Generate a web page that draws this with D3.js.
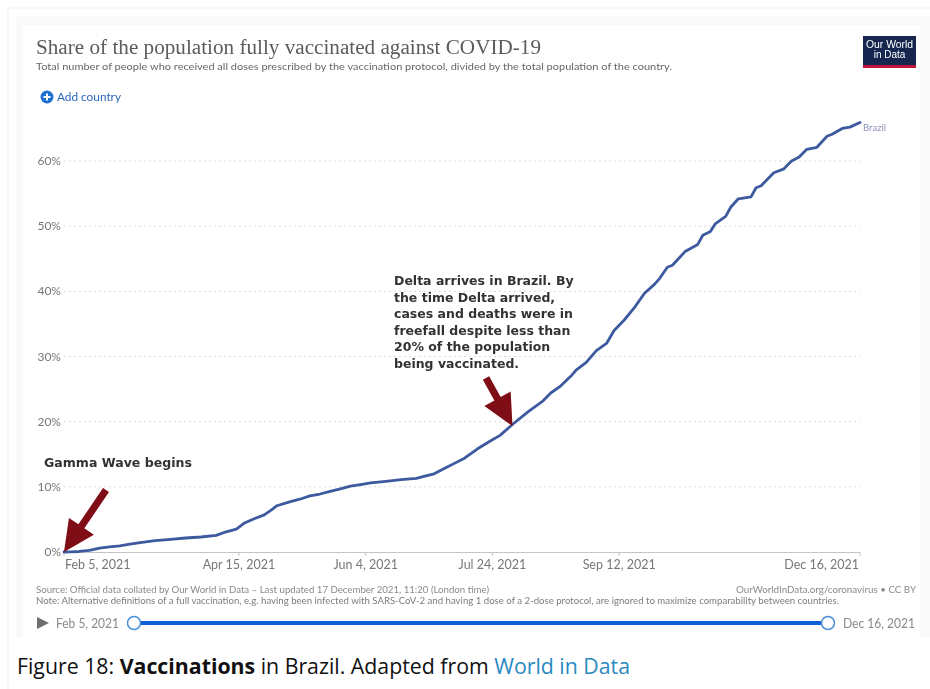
<!DOCTYPE html>
<html><head><meta charset="utf-8">
<script src="https://cdn.jsdelivr.net/npm/d3@7"></script>
<style>html,body{margin:0;padding:0;background:#fff}svg{display:block}</style>
</head><body><svg id="c" width="930" height="689"></svg>
<script>
const startDate = new Date(2021,1,5);
const dayOffsets = [0,3,6,10,14,18,22,26,30,36,42,48,54,60,64,68,71,75,79,82,84,89,93,97,101,105,109,113,117,121,127,133,139,142,146,150,154,158,163,168,172,177,183,189,192,196,200,202,206,210,214,217,221,225,229,233,235,238,240,245,250,252,255,257,261,263,266,271,273,275,280,284,287,290,293,297,301,303,307,310,314];
const brazilShare = [0,0.02,0.08,0.25,0.6,0.8,0.95,1.2,1.45,1.75,1.95,2.15,2.3,2.55,3.1,3.5,4.4,5.1,5.7,6.5,7.1,7.7,8.1,8.6,8.9,9.3,9.7,10.1,10.35,10.6,10.85,11.1,11.3,11.6,12.0,12.8,13.6,14.4,15.8,17.0,17.9,19.6,21.5,23.2,24.4,25.5,27.0,27.9,29.1,30.9,32,34,35.6,37.5,39.7,41.1,42,43.7,44,46.1,47.2,48.6,49.2,50.4,51.5,52.9,54.2,54.5,55.9,56.2,58.2,58.8,60,60.6,61.8,62.1,63.8,64.1,65,65.2,65.9];
const yTicks = [0,10,20,30,40,50,60];
const xTickDays = [0,69,119,169,219,314];
const xTickLabels = ["Feb 5, 2021","Apr 15, 2021","Jun 4, 2021","Jul 24, 2021","Sep 12, 2021","Dec 16, 2021"];
const deltaLines = ["Delta arrives in Brazil. By","the time Delta arrived,","cases and deaths were in","freefall despite less than","20% of the population","being vaccinated."];

const svg = d3.select("#c");
const defs = svg.append("defs");
defs.append("filter").attr("id","soft").attr("x","-2%").attr("y","-2%").attr("width","104%").attr("height","104%")
  .append("feGaussianBlur").attr("stdDeviation",0.45);
const LATO = "Lato, sans-serif";

const x = d3.scaleTime().domain([startDate, d3.timeDay.offset(startDate,314)]).range([64,860]);
const y = d3.scaleLinear().domain([0,60]).range([552,161]);
const dayX = d => x(d3.timeDay.offset(startDate,d));

// frame
svg.append("rect").attr("x",8).attr("y",8).attr("width",930).attr("height",700).attr("fill","#fff").attr("stroke","#efefef");
svg.append("rect").attr("x",16).attr("y",16).attr("width",914).attr("height",621).attr("fill","#f9f9f9");
svg.append("rect").attr("x",23).attr("y",25).attr("width",897).attr("height",612).attr("fill","#fff");

const g = svg.append("g").attr("filter","url(#soft)");
const T = (s,px,py,size,col,opts={}) => {
  const t = g.append("text").attr("x",px).attr("y",py).attr("font-size",size).attr("fill",col)
    .attr("font-family",opts.f||LATO).attr("text-anchor",opts.a||"start").text(s);
  if(opts.w) t.attr("font-weight",opts.w);
  if(opts.len) t.attr("textLength",opts.len).attr("lengthAdjust","spacingAndGlyphs");
  return t;
};

T("Share of the population fully vaccinated against COVID-19",36,54,20.5,"#5b5b5b",{f:"'Liberation Serif',serif",len:505});
T("Total number of people who received all doses prescribed by the vaccination protocol, divided by the total population of the country.",36,70,10,"#666",{len:636});

// logo
g.append("rect").attr("x",863).attr("y",36).attr("width",53).attr("height",32).attr("fill","#12284f");
g.append("rect").attr("x",863).attr("y",65).attr("width",53).attr("height",3).attr("fill","#c0143c");
T("Our World",889.5,48,10,"#fff",{a:"middle",f:"'Liberation Sans',sans-serif",len:47});
T("in Data",889.5,58,10,"#fff",{a:"middle",f:"'Liberation Sans',sans-serif"});

// add country
g.append("circle").attr("cx",47).attr("cy",97).attr("r",6.5).attr("fill","#1f6fd0");
g.append("path").attr("d","M43.5 97H50.5M47 93.5V100.5").attr("stroke","#fff").attr("stroke-width",2);
T("Add country",57,100.5,11,"#2a67b8",{len:64});

// grid + y labels
g.selectAll("line.grid").data(yTicks.filter(d=>d>0)).join("line").attr("class","grid")
  .attr("x1",64).attr("x2",860).attr("y1",d=>y(d)).attr("y2",d=>y(d))
  .attr("stroke","#dcdcdc").attr("stroke-dasharray","2 3");
g.selectAll("text.yl").data(yTicks).join("text").attr("class","yl")
  .attr("x",61).attr("y",d=>y(d)+4).attr("text-anchor","end").attr("font-family",LATO)
  .attr("font-size",12).attr("fill","#777").text(d=>d+"%");

// x axis
g.append("line").attr("x1",64).attr("x2",860).attr("y1",552.5).attr("y2",552.5).attr("stroke","#c4c4c4").attr("stroke-width",1.2);
g.selectAll("line.tick").data(xTickDays).join("line").attr("class","tick")
  .attr("x1",dayX).attr("x2",dayX).attr("y1",552).attr("y2",556).attr("stroke","#c4c4c4");
g.selectAll("text.xl").data(xTickDays).join("text").attr("class","xl")
  .attr("x",(d,i)=>i==0?65:(i==5?859:dayX(d))).attr("y",569)
  .attr("text-anchor",(d,i)=>i==0?"start":(i==5?"end":"middle"))
  .attr("font-family",LATO).attr("font-size",12.5).attr("fill","#777").text((d,i)=>xTickLabels[i]);

// series
const line = d3.line().x(d=>dayX(d[0])).y(d=>y(d[1])).curve(d3.curveLinear);
g.append("path").datum(d3.zip(dayOffsets,brazilShare)).attr("d",line).attr("fill","none")
  .attr("stroke","#3c5a9e").attr("stroke-width",2.8).attr("stroke-linejoin","round").attr("stroke-linecap","round");
T("Brazil",863,131,9.5,"#8d92b8");

// annotations
const arrow = (x0,y0,x1,y1) => {
  const dx=x1-x0, dy=y1-y0, L=Math.hypot(dx,dy), ux=dx/L, uy=dy/L, hl=31, hw=15, sw=3.6;
  const bx=x1-ux*hl, by=y1-uy*hl, nx=-uy, ny=ux;
  const p=[[x0+nx*sw,y0+ny*sw],[bx+nx*sw,by+ny*sw],[bx+nx*hw,by+ny*hw],[x1,y1],[bx-nx*hw,by-ny*hw],[bx-nx*sw,by-ny*sw],[x0-nx*sw,y0-ny*sw]];
  g.append("polygon").attr("points",p.map(q=>q.join(",")).join(" ")).attr("fill","#7f0a14");
};
arrow(106,490,64,552);
arrow(486,378,512.5,426);
g.selectAll("text.delta").data(deltaLines).join("text").attr("class","delta")
  .attr("x",394).attr("y",(d,i)=>285+i*16.6)
  .attr("font-family","'DejaVu Sans',sans-serif").attr("font-weight","bold").attr("font-size",12.5).attr("fill","#333").text(d=>d);
T("Gamma Wave begins",44,467,12.5,"#333",{f:"'DejaVu Sans',sans-serif",w:"bold",len:148});

// source
T("Source: Official data collated by Our World in Data – Last updated 17 December 2021, 11:20 (London time)",36,593,9.5,"#8a8a8a",{len:453});
T("Note: Alternative definitions of a full vaccination, e.g. having been infected with SARS-CoV-2 and having 1 dose of a 2-dose protocol, are ignored to maximize comparability between countries.",36,603.5,9.5,"#7c7c7c",{len:803});
T("OurWorldInData.org/coronavirus • CC BY",916,593,9.5,"#8a8a8a",{a:"end",len:180});

// timeline
g.append("polygon").attr("points","37,617 37,629 49,623").attr("fill","#6e6e6e");
T("Feb 5, 2021",56,627.5,12.5,"#8a8a8a",{len:63});
g.append("line").attr("x1",134).attr("x2",828).attr("y1",623).attr("y2",623).attr("stroke","#0b5fd6").attr("stroke-width",4);
[134,828].forEach(c=>g.append("circle").attr("cx",c).attr("cy",623).attr("r",6.5).attr("fill","#fff").attr("stroke","#4a90d9").attr("stroke-width",1.5));
T("Dec 16, 2021",843,627.5,12.5,"#8a8a8a",{len:72});

// caption
const cap = svg.append("text").attr("x",17).attr("y",674).attr("font-family","'Open Sans',sans-serif").attr("font-size",21.3).attr("fill","#111");
cap.append("tspan").text("Figure 18: ");
cap.append("tspan").attr("font-weight","bold").text("Vaccinations");
cap.append("tspan").text(" in Brazil. Adapted from ");
cap.append("tspan").attr("fill","#2a8abf").text("World in Data");
</script></body></html>
